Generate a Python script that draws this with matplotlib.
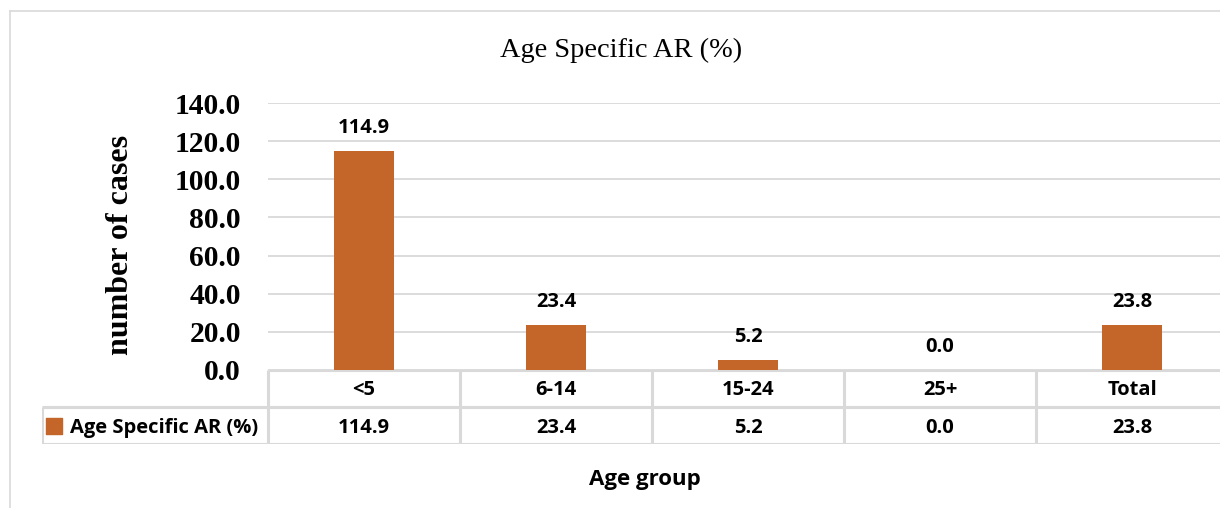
import matplotlib
matplotlib.use("Agg")
import matplotlib.pyplot as plt
from matplotlib.lines import Line2D

categories = ["<5", "6-14", "15-24", "25+", "Total"]
values = [114.9, 23.4, 5.2, 0.0, 23.8]
series_name = "Age Specific AR (%)"
yticks = [0, 20, 40, 60, 80, 100, 120, 140]
title = "Age Specific AR (%)"
ylabel = "number of cases"
xlabel = "Age group"

W, H = 1220, 508
BAR = "#C4652A"
GRID = "#D9D9D9"
SERIF = "Liberation Serif"
SANS = "Open Sans"
FS = 14.5

fig = plt.figure(figsize=(W / 100, H / 100), dpi=100)

def fx(px):
    return px / W

def fy(py):
    return 1 - py / H

# outer chart border (top and left visible)
fig.add_artist(Line2D([fx(10), fx(10)], [fy(11), fy(508)], color=GRID, lw=1.2, transform=fig.transFigure))
fig.add_artist(Line2D([fx(10), fx(1220)], [fy(11), fy(11)], color=GRID, lw=1.2, transform=fig.transFigure))

left_px, right_px, top_px, zero_px = 268, 1228, 103, 370
ax = fig.add_axes([fx(left_px), fy(zero_px), fx(right_px - left_px), (zero_px - top_px) / H])
n = len(categories)
xs = [i + 0.5 for i in range(n)]
ax.bar(xs, values, width=0.31, color=BAR, zorder=3)
ax.set_xlim(0, n)
ax.set_ylim(0, 140)
ax.set_yticks(yticks)
ax.set_yticklabels([f"{v:.1f}" for v in yticks], fontfamily=SERIF, fontweight="bold", fontsize=21.3)
ax.tick_params(axis="y", length=0, pad=19.5)
ax.set_xticks([])
for s in ax.spines.values():
    s.set_visible(False)
ax.grid(axis="y", color=GRID, lw=1.3, zorder=0)
for x, v in zip(xs, values):
    ax.annotate(f"{v:.1f}", (x, v), xytext=(0, 23), textcoords="offset pixels",
                ha="center", va="center", fontfamily=SANS, fontweight="bold", fontsize=FS)

fig.text(fx(120), fy(245), ylabel, rotation=90, ha="center", va="center",
         fontfamily=SERIF, fontweight="bold", fontsize=23)
fig.text(fx(621), fy(50), title, ha="center", va="center", fontfamily=SERIF, fontsize=20.4)

# data table
tab_left = 42
tab = fig.add_axes([fx(tab_left), fy(444), fx(right_px - tab_left), 74 / H])
x0 = (tab_left - left_px) / (right_px - left_px) * n
tab.set_xlim(x0, n)
tab.set_ylim(0, 2)
tab.axis("off")
tab.plot([0, n], [2, 2], color=GRID, lw=2.2, solid_capstyle="butt")
tab.plot([x0, n], [1, 1], color=GRID, lw=2.2, solid_capstyle="butt")
tab.plot([x0, n], [0, 0], color=GRID, lw=2.2, solid_capstyle="butt")
tab.plot([x0, x0], [0, 1], color=GRID, lw=2.2, solid_capstyle="butt")
for i in range(n):
    tab.plot([i, i], [0, 2], color=GRID, lw=2.2, solid_capstyle="butt")
for x, c, v in zip(xs, categories, values):
    tab.text(x, 1.45, c, ha="center", va="center", fontfamily=SANS, fontweight="bold", fontsize=FS)
    tab.text(x, 0.43, f"{v:.1f}", ha="center", va="center", fontfamily=SANS, fontweight="bold", fontsize=FS)
tab.scatter([x0 + 0.06], [0.5], marker="s", s=120, color=BAR, transform=tab.transData, clip_on=False)
tab.text(x0 + 0.145, 0.43, series_name, ha="left", va="center", fontfamily=SANS, fontweight="bold", fontsize=FS)

fig.text(fx(645), fy(479), xlabel, ha="center", va="center", fontfamily=SANS, fontweight="bold", fontsize=16)

fig.savefig("out.png", dpi=100, facecolor="white")
